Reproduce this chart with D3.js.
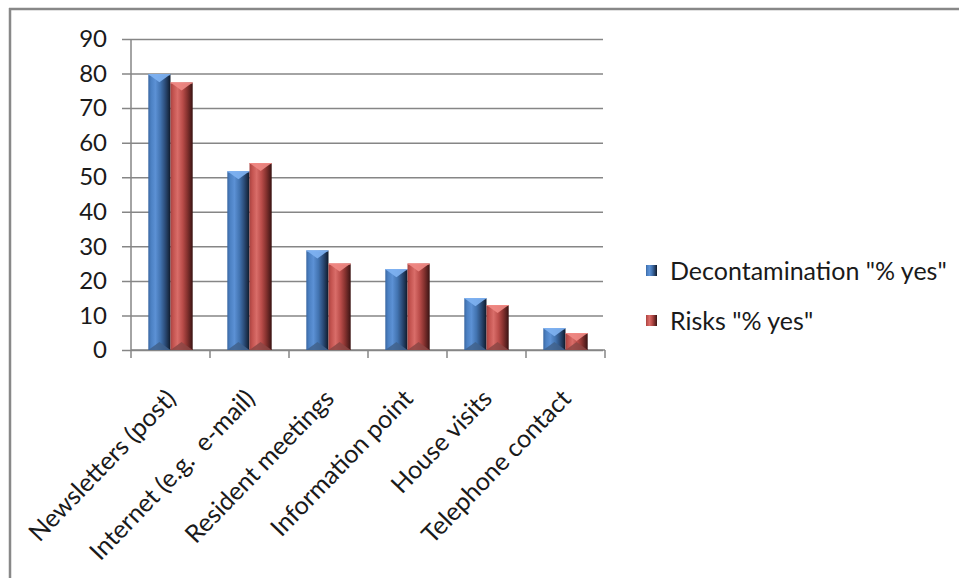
<!DOCTYPE html>
<html>
<head>
<meta charset="utf-8">
<script src="https://cdn.jsdelivr.net/npm/d3@7"></script>
<style>
  body { margin: 0; background: #fff; }
  text { font-family: Lato, "Open Sans", sans-serif; fill: #1a1a1a; }
</style>
</head>
<body>
<svg id="chart" width="959" height="578"></svg>
<script>
// data
const categories = ["Newsletters (post)", "Internet (e.g.  e-mail)", "Resident meetings",
  "Information point", "House visits", "Telephone contact"];
const seriesNames = ['Decontamination "% yes"', 'Risks "% yes"'];
const decontamination = [79.8, 51.7, 28.8, 23.4, 15.0, 6.3];
const risks = [77.4, 54.1, 25.0, 25.0, 13.0, 4.9];
const yTicks = [0, 10, 20, 30, 40, 50, 60, 70, 80, 90];

const svg = d3.select('#chart');
const plot = { left: 131, right: 605, top: 39, bottom: 350 };
const fontSize = 25;

// colours for the bevelled bars
const palette = [
  { stops: ['#3a67a2', '#4b80c2', '#5c91d5', '#4273b0', '#2c4d7a', '#1b2f4b', '#0e1828'], top: '#7fb2f2', base: '#41618c' },
  { stops: ['#a74341', '#c3534f', '#d96d69', '#b94c49', '#86322f', '#58201f', '#381211'], top: '#f08a85', base: '#8c4644' }
];
const stopPos = [0, 0.12, 0.32, 0.55, 0.75, 0.9, 1];

const defs = svg.append('defs');
palette.forEach((p, i) => {
  const g = defs.append('linearGradient').attr('id', 'bar' + i)
    .attr('x1', 0).attr('x2', 1).attr('y1', 0).attr('y2', 0);
  p.stops.forEach((c, j) => g.append('stop').attr('offset', stopPos[j]).attr('stop-color', c));
});

// frame round the chart (only top & left visible)
svg.append('line').attr('x1', 9).attr('x2', 959).attr('y1', 9).attr('y2', 9)
  .attr('stroke', '#888').attr('stroke-width', 2.5);
svg.append('line').attr('x1', 10).attr('x2', 10).attr('y1', 8).attr('y2', 578)
  .attr('stroke', '#888').attr('stroke-width', 2.5);

const x0 = d3.scaleBand().domain(categories).range([plot.left, plot.right]);
const x1 = d3.scaleBand().domain(seriesNames).range([0, x0.bandwidth()]).paddingOuter(0.78);
const y = d3.scaleLinear().domain([0, 90]).range([plot.bottom, plot.top]);

// gridlines + y axis
const yAxis = d3.axisLeft(y).tickValues(yTicks).tickSize(-(plot.right - 2 - plot.left)).tickPadding(24);
const yg = svg.append('g').attr('transform', `translate(${plot.left},0)`).call(yAxis);
yg.select('.domain').remove();
yg.selectAll('.tick line').attr('stroke', '#868686').attr('stroke-width', 1.5).attr('x1', -9);
yg.selectAll('.tick text').attr('font-size', 24).attr('font-family', 'Lato').attr('fill', '#1a1a1a');
svg.append('line').attr('x1', plot.left).attr('x2', plot.left).attr('y1', plot.top).attr('y2', plot.bottom)
  .attr('stroke', '#868686').attr('stroke-width', 1.5);

// x axis line and category ticks
svg.append('line').attr('x1', plot.left).attr('x2', plot.right).attr('y1', plot.bottom).attr('y2', plot.bottom)
  .attr('stroke', '#868686').attr('stroke-width', 1.5);
const bounds = categories.map(c => x0(c)).concat([plot.right]);
svg.selectAll('.ctick').data(bounds).enter().append('line')
  .attr('x1', d => d).attr('x2', d => d).attr('y1', plot.bottom).attr('y2', plot.bottom + 8)
  .attr('stroke', '#868686').attr('stroke-width', 1.5);

// bars
const rows = categories.map((c, i) => ({ cat: c, vals: [decontamination[i], risks[i]] }));
const w = x1.bandwidth();
rows.forEach(r => {
  r.vals.forEach((v, s) => {
    const bx = x0(r.cat) + x1(seriesNames[s]);
    const by = y(v);
    const g = svg.append('g');
    g.append('rect').attr('x', bx).attr('y', by).attr('width', w).attr('height', plot.bottom - by)
      .attr('fill', `url(#bar${s})`);
    // top bevel
    g.append('path').attr('d', `M${bx},${by} L${bx + w},${by} L${bx + w / 2},${by + 8} Z`)
      .attr('fill', palette[s].top).attr('opacity', 0.9);
    g.append('line').attr('x1', bx).attr('x2', bx + w).attr('y1', by + 0.5).attr('y2', by + 0.5)
      .attr('stroke', palette[s].top).attr('stroke-width', 1);
    // bottom bevel
    g.append('path').attr('d', `M${bx},${plot.bottom} L${bx + w},${plot.bottom} L${bx + w / 2},${plot.bottom - 8} Z`)
      .attr('fill', palette[s].base).attr('opacity', 0.85);
  });
});

// category labels, rotated
svg.selectAll('.xlab').data(categories).enter().append('text')
  .attr('transform', d => `translate(${x0(d) + x0.bandwidth() / 2 + 7},${plot.bottom + 50}) rotate(-46)`)
  .attr('text-anchor', 'end').attr('font-size', fontSize)
  .style('white-space', 'pre')
  .text(d => d);

// legend
const legend = svg.append('g');
seriesNames.forEach((n, i) => {
  const ly = 271 + i * 50;
  legend.append('rect').attr('x', 646).attr('y', ly - 6).attr('width', 11).attr('height', 11)
    .attr('fill', `url(#bar${i})`);
  legend.append('text').attr('x', 670).attr('y', ly).attr('dy', '0.35em')
    .attr('font-size', fontSize).text(n);
});
</script>
</body>
</html>
